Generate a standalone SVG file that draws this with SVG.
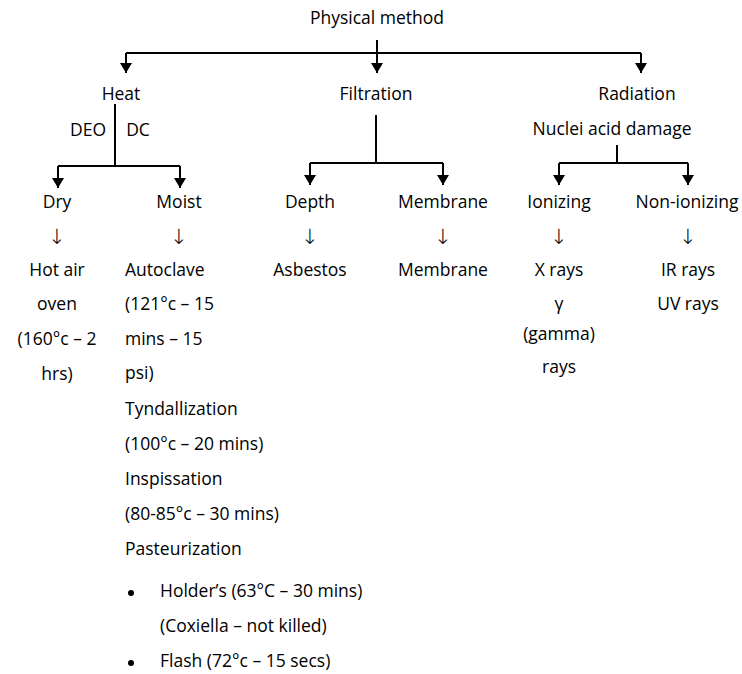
<svg xmlns="http://www.w3.org/2000/svg" width="742" height="674" viewBox="0 0 742 674">
<defs>
<marker id="ah" viewBox="0 0 10 12" refX="10" refY="6" markerWidth="10" markerHeight="12" markerUnits="userSpaceOnUse" orient="auto">
<path d="M0,0 L10,6 L0,12 Z" fill="#000"/>
</marker>
<style>
text{font-family:"Open Sans","Liberation Sans",sans-serif;font-size:17.5px;fill:#000}
.c{text-anchor:middle}
.d{font-family:"DejaVu Sans",sans-serif;font-size:21px;font-weight:300}
.l{stroke:#000;stroke-width:2;fill:none}
.a{stroke:#000;stroke-width:2;fill:none;marker-end:url(#ah)}
</style>
</defs>
<rect width="742" height="674" fill="#fff"/>
<g id="connectors">
<path class="l" d="M126,53 H641"/>
<path class="a" d="M377,40 V73"/>
<path class="a" d="M126,53 V73"/>
<path class="a" d="M641,53 V73"/>
<path class="l" d="M115,104 V166 M58,166 H180"/>
<path class="a" d="M58,166 V188"/>
<path class="a" d="M180,166 V188"/>
<path class="l" d="M376,115 V163 M310,163 H443"/>
<path class="a" d="M310,163 V185"/>
<path class="a" d="M443,163 V185"/>
<path class="l" d="M617,145 V163 M559,163 H688"/>
<path class="a" d="M559,163 V185"/>
<path class="a" d="M688,163 V185"/>
</g>
<g id="physical"><text class="c" x="377" y="24">Physical method</text></g>
<g id="heat"><text class="c" x="121" y="100">Heat</text>
<text class="c" x="88" y="136">DEO</text><text class="c" x="138" y="136">DC</text></g>
<g id="filtration"><text class="c" x="376" y="100">Filtration</text></g>
<g id="radiation"><text class="c" x="637" y="100">Radiation</text>
<text class="c" x="612" y="135">Nuclei acid damage</text></g>
<g id="dry"><text class="c" x="57" y="208">Dry</text><text class="c d" x="57" y="244">↓</text>
<text class="c" x="57" y="276">Hot air</text><text class="c" x="57" y="310">oven</text>
<text class="c" x="57" y="345">(160°c – 2</text><text class="c" x="57" y="380">hrs)</text></g>
<g id="moist"><text class="c" x="179" y="208">Moist</text><text class="c d" x="179" y="244">↓</text>
<text x="125" y="276">Autoclave</text>
<text x="125" y="310">(121°c – 15</text>
<text x="125" y="345">mins – 15</text>
<text x="125" y="379">psi)</text>
<text x="125" y="415">Tyndallization</text>
<text x="125" y="450">(100°c – 20 mins)</text>
<text x="125" y="485">Inspissation</text>
<text x="125" y="520">(80-85°c – 30 mins)</text>
<text x="125" y="555">Pasteurization</text>
<circle cx="131" cy="593" r="3"/>
<text x="160" y="597">Holder’s (63°C – 30 mins)</text>
<text x="160" y="632">(Coxiella – not killed)</text>
<circle cx="131" cy="663" r="3"/>
<text x="160" y="667">Flash (72°c – 15 secs)</text></g>
<g id="depth"><text class="c" x="310" y="208">Depth</text><text class="c d" x="310" y="244">↓</text>
<text class="c" x="310" y="276">Asbestos</text></g>
<g id="membrane"><text class="c" x="443" y="208">Membrane</text><text class="c d" x="443" y="244">↓</text>
<text class="c" x="443" y="276">Membrane</text></g>
<g id="ionizing"><text class="c" x="559" y="208">Ionizing</text><text class="c d" x="559" y="244">↓</text>
<text class="c" x="559" y="276">X rays</text><text class="c" x="559" y="310">γ</text>
<text class="c" x="559" y="340">(gamma)</text><text class="c" x="559" y="373">rays</text></g>
<g id="nonionizing"><text class="c" x="687" y="208">Non-ionizing</text><text class="c d" x="688" y="244">↓</text>
<text class="c" x="688" y="276">IR rays</text><text class="c" x="688" y="310">UV rays</text></g>
</svg>
